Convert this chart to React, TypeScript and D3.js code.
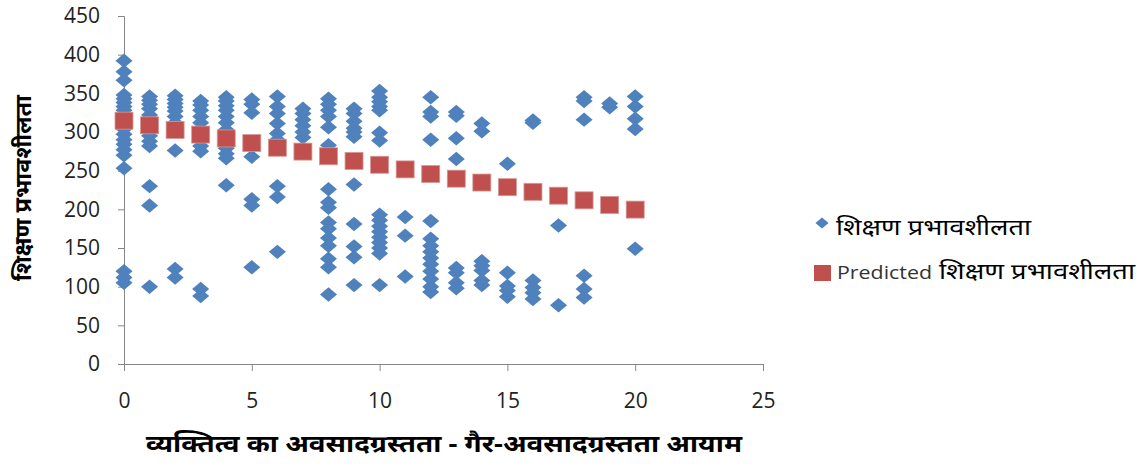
import React, { useEffect, useRef } from 'react';
import * as d3 from 'd3';

// x: personality dimension score, one entry per observed group
const dimScores = [0, 1, 2, 3, 4, 5, 6, 7, 8, 9, 10, 11, 12, 13, 14, 15, 16, 17, 18, 19, 20];

// observed teaching effectiveness, grouped by dimension score
const observed = [
  [392, 378, 367, 348, 343, 338, 333, 328, 320, 312, 304, 297, 290, 284, 277, 270, 253, 120, 112, 105],
  [346, 341, 336, 330, 322, 313, 303, 295, 288, 282, 230, 205, 100],
  [347, 342, 337, 332, 327, 320, 312, 305, 276, 123, 112],
  [340, 335, 328, 320, 312, 304, 297, 290, 282, 275, 97, 88],
  [345, 340, 334, 328, 320, 312, 303, 295, 287, 279, 272, 266, 231],
  [342, 336, 325, 283, 268, 213, 205, 125],
  [346, 333, 324, 311, 298, 290, 230, 216, 145],
  [330, 324, 316, 308, 300, 293],
  [343, 336, 328, 320, 306, 283, 226, 209, 202, 183, 175, 163, 153, 136, 125, 90],
  [330, 324, 314, 305, 300, 294, 232, 181, 152, 138, 102],
  [353, 345, 339, 333, 328, 299, 289, 193, 186, 178, 171, 164, 157, 150, 143, 102],
  [190, 166, 113],
  [345, 326, 320, 290, 185, 162, 153, 145, 137, 129, 120, 110, 100, 93],
  [326, 321, 292, 265, 124, 118, 105, 98],
  [311, 301, 133, 127, 121, 108, 102],
  [259, 118, 101, 95, 87],
  [315, 312, 108, 99, 92, 84],
  [179, 76],
  [345, 340, 316, 114, 97, 86],
  [337, 332],
  [346, 333, 317, 304, 149],
];

// predicted (regression) values, one per dimension score
const predicted = [314, 308, 302, 296, 291, 285, 279, 274, 268, 262, 257, 251, 245, 239, 234, 228, 222, 217, 211, 205, 199];

const xTicks = [0, 5, 10, 15, 20, 25];
const yTicks = [0, 50, 100, 150, 200, 250, 300, 350, 400, 450];

const seriesName = 'शिक्षण प्रभावशीलता';
const xTitle = 'व्यक्तित्व का अवसादग्रस्तता - गैर-अवसादग्रस्तता आयाम';

const W = 1140, H = 466;
const m = { left: 124, right: 377, top: 16, bottom: 102 };

const App = () => {
  const ref = useRef<SVGSVGElement>(null);

  useEffect(() => {
    const svg = d3.select(ref.current);
    svg.selectAll('*').remove();

    const x = d3.scaleLinear().domain([0, 25]).range([m.left, W - m.right]);
    const y = d3.scaleLinear().domain([0, 450]).range([H - m.bottom, m.top]);
    const axisColor = '#868686';
    const tickFont = '"Open Sans", "Liberation Sans", sans-serif';

    // y axis
    const ya = svg.append('g').attr('transform', `translate(${m.left},0)`)
      .call(d3.axisLeft(y).tickValues(yTicks).tickSize(6).tickPadding(18));
    ya.select('.domain').attr('stroke', axisColor);
    ya.selectAll('line').attr('stroke', axisColor);
    ya.selectAll('text').attr('font-size', 21).attr('font-family', tickFont).attr('fill', '#222');

    // x axis
    const xa = svg.append('g').attr('transform', `translate(0,${y(0)})`)
      .call(d3.axisBottom(x).tickValues(xTicks).tickSize(7).tickPadding(22));
    xa.select('.domain').attr('stroke', axisColor);
    xa.selectAll('line').attr('stroke', axisColor);
    xa.selectAll('text').attr('font-size', 21).attr('font-family', tickFont).attr('fill', '#222');

    const diamond = d3.symbol().type(d3.symbolDiamond2).size(185);

    // observed points
    const pts = dimScores.flatMap((d, i) => observed[i].map(v => ({ x: d, y: v })));
    svg.append('g').selectAll('path')
      .data(pts)
      .enter().append('path')
      .attr('d', diamond)
      .attr('transform', d => `translate(${x(d.x)},${y(d.y)}) scale(1,0.85)`)
      .attr('fill', '#4F81BD');

    // predicted squares
    const sq = 18;
    svg.append('g').selectAll('rect')
      .data(predicted.map((v, i) => ({ x: dimScores[i], y: v })))
      .enter().append('rect')
      .attr('x', d => x(d.x) - sq / 2)
      .attr('y', d => y(d.y) - sq / 2)
      .attr('width', sq)
      .attr('height', sq - 1)
      .attr('fill', '#C0504D')
      .attr('stroke', '#D99694')
      .attr('stroke-width', 0.8);

    // axis titles
    svg.append('text')
      .attr('x', 146).attr('y', 452)
      .attr('textLength', 596).attr('lengthAdjust', 'spacingAndGlyphs')
      .attr('font-size', 24).attr('font-weight', 'bold')
      .attr('font-family', '"Noto Sans", sans-serif')
      .text(xTitle);

    svg.append('text')
      .attr('transform', 'translate(31,95) rotate(-90)')
      .attr('x', -186).attr('y', 0)
      .attr('textLength', 186).attr('lengthAdjust', 'spacingAndGlyphs')
      .attr('font-size', 23).attr('font-weight', 'bold')
      .attr('font-family', '"Noto Sans", sans-serif')
      .text(seriesName);

    // legend
    const lg = svg.append('g');
    lg.append('path').attr('d', d3.symbol().type(d3.symbolDiamond2).size(110))
      .attr('transform', 'translate(822,223) scale(1,0.85)').attr('fill', '#4F81BD');
    lg.append('text').attr('x', 836).attr('y', 235)
      .attr('textLength', 195).attr('lengthAdjust', 'spacingAndGlyphs')
      .attr('font-size', 22).attr('font-family', '"Noto Sans", sans-serif')
      .text(seriesName);
    lg.append('rect').attr('x', 814).attr('y', 265).attr('width', 17).attr('height', 16)
      .attr('fill', '#C0504D');
    lg.append('text').attr('x', 837).attr('y', 279)
      .attr('textLength', 95).attr('lengthAdjust', 'spacingAndGlyphs')
      .attr('font-size', 19).attr('fill', '#333')
      .attr('font-family', '"Open Sans", sans-serif')
      .text('Predicted');
    lg.append('text').attr('x', 939).attr('y', 279)
      .attr('textLength', 196).attr('lengthAdjust', 'spacingAndGlyphs')
      .attr('font-size', 22).attr('font-family', '"Noto Sans", sans-serif')
      .text(seriesName);
  }, []);

  return (
    <svg ref={ref} width={W} height={H}
      style={{ position: 'absolute', left: 0, top: 0, background: '#fff' }} />
  );
};

export default App;
